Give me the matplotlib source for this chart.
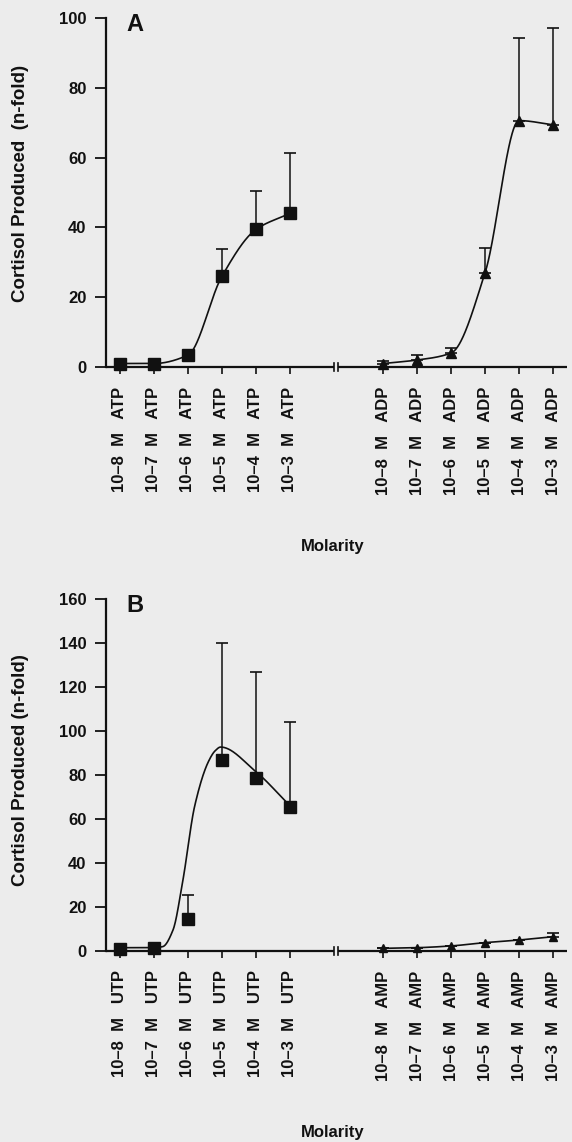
import matplotlib
matplotlib.use("Agg")
import matplotlib.pyplot as plt
import numpy as np

# ── Palette / fonts ──────────────────────────────────────────
BG = "#ececec"
INK = "#111111"
plt.rcParams["font.family"] = ["Liberation Sans", "DejaVu Sans"]
plt.rcParams["font.weight"] = "bold"

# ── Data ─────────────────────────────────────────────────────
exps = [-8, -7, -6, -5, -4, -3]
conc = ["10–8", "10–7", "10–6", "10–5", "10–4", "10–3"]

atp_mean = [1.0, 1.0, 3.4, 26.0, 39.4, 44.0]
atp_err = [0.0, 0.0, 0.0, 7.7, 10.9, 17.4]
adp_mean = [1.0, 2.0, 4.0, 27.0, 70.6, 69.4]
adp_err = [0.8, 1.5, 1.5, 7.0, 23.7, 27.6]

utp_mean = [1.0, 1.5, 14.5, 87.0, 78.5, 65.5]
utp_err = [0.0, 0.0, 11.0, 53.0, 48.5, 38.5]
amp_mean = [1.2, 1.5, 2.3, 3.8, 5.0, 6.5]
amp_err = [0.0, 0.0, 0.0, 0.0, 0.0, 1.5]

# fitted dose-response line for UTP (does not pass through the means)
utp_fit_exp = [-8, -7, -6.74, -6.44, -6.15, -5.8, -5.4, -5.2, -5.04, -4.0, -3.0]
utp_fit_val = [1.5, 1.5, 2.0, 9.5, 32.0, 66.0, 86.0, 91.0, 92.7, 81.5, 66.0]

GAP = 7.74     # offset of the second agonist group on the x axis
BREAK = 6.35   # where the axis break marks sit


def pchip(x, y, xs):
    """Monotone cubic (PCHIP) curve through the knots, evaluated at xs."""
    x = np.asarray(x, float)
    y = np.asarray(y, float)
    h = np.diff(x)
    d = np.diff(y) / h
    m = np.zeros_like(y)
    for k in range(1, len(x) - 1):
        if d[k - 1] * d[k] > 0:
            w1 = 2 * h[k] + h[k - 1]
            w2 = h[k] + 2 * h[k - 1]
            m[k] = (w1 + w2) / (w1 / d[k - 1] + w2 / d[k])
    m[0], m[-1] = d[0], d[-1]
    i = np.clip(np.searchsorted(x, xs) - 1, 0, len(h) - 1)
    t = (xs - x[i]) / h[i]
    return ((2 * t**3 - 3 * t**2 + 1) * y[i] + (t**3 - 2 * t**2 + t) * h[i] * m[i]
            + (-2 * t**3 + 3 * t**2) * y[i + 1] + (t**3 - t**2) * h[i] * m[i + 1])


def draw_series(ax, xpos, mean, err, marker, ms, fit_x=None, fit_y=None):
    if fit_x is None:
        fit_x, fit_y = xpos, mean
    xs = np.linspace(fit_x[0], fit_x[-1], 400)
    ax.plot(xs, pchip(fit_x, fit_y, xs), color=INK, lw=1.2, clip_on=False, zorder=3)
    ax.errorbar(xpos, mean, yerr=[np.zeros(len(err)), err], fmt="none",
                ecolor=INK, elinewidth=1.1, capsize=4.5, capthick=1.2,
                clip_on=False, zorder=3)
    ax.plot(xpos, mean, marker, color=INK, ms=ms, ls="none",
            clip_on=False, zorder=4)


def style_panel(ax, letter, ymax, left_name, right_name, ylabel, ylab_y):
    ax.set_facecolor(BG)
    ax.set_xlim(-0.41, 13.15)
    ax.set_ylim(0, ymax)
    for s in ("top", "right", "bottom"):
        ax.spines[s].set_visible(False)
    ax.spines["left"].set_linewidth(1.6)
    ax.spines["left"].set_color(INK)

    # broken x axis line
    kw = dict(color=INK, lw=1.6, clip_on=False, solid_capstyle="butt")
    ax.plot([-0.41, BREAK - 0.05], [0, 0], **kw)
    ax.plot([BREAK + 0.05, 13.15], [0, 0], **kw)
    for bx in (BREAK - 0.05, BREAK + 0.05):
        ax.plot([bx, bx], [-ymax * 0.012, ymax * 0.012], color=INK, lw=1.2,
                clip_on=False)

    left = np.array(exps) + 8
    right = left + GAP
    ax.set_xticks(np.concatenate([left, right]))
    ax.set_xticklabels([f"{c}  M   {left_name}" for c in conc]
                       + [f"{c}  M   {right_name}" for c in conc],
                       rotation=90, fontsize=12, fontweight="bold")
    ax.tick_params(axis="x", direction="out", length=5, width=1.2,
                   pad=9, colors=INK)
    ax.set_yticks(np.arange(0, ymax + 1, 20))
    ax.tick_params(axis="y", direction="out", length=8, width=1.3,
                   pad=6, labelsize=12, colors=INK)
    for lab in ax.get_yticklabels():
        lab.set_fontweight("bold")

    ax.set_ylabel(ylabel, fontsize=13.5, fontweight="bold", color=INK)
    ax.yaxis.set_label_coords(-0.167, ylab_y)
    ax.text(0.045, 0.982, letter, transform=ax.transAxes, fontsize=17,
            fontweight="bold", va="center", ha="left", color=INK)
    return left, right


fig = plt.figure(figsize=(5.72, 11.42), dpi=100)
fig.patch.set_facecolor(BG)

W, H = 572.0, 1142.0
ax_a = fig.add_axes([106 / W, 1 - 367 / H, 461 / W, 349 / H])
ax_b = fig.add_axes([106 / W, 1 - 951 / H, 461 / W, 352 / H])

# ── A: ATP / ADP ─────────────────────────────────────────────
left, right = style_panel(ax_a, "A", 100, "ATP", "ADP",
                          "Cortisol Produced  (n-fold)", 0.527)
draw_series(ax_a, left, atp_mean, atp_err, "s", 8.5)
draw_series(ax_a, right, adp_mean, adp_err, "^", 7)

# ── B: UTP / AMP ─────────────────────────────────────────────
left, right = style_panel(ax_b, "B", 160, "UTP", "AMP",
                          "Cortisol Produced (n-fold)", 0.514)
draw_series(ax_b, left, utp_mean, utp_err, "s", 8.5,
            fit_x=np.array(utp_fit_exp) + 8, fit_y=utp_fit_val)
draw_series(ax_b, right, amp_mean, amp_err, "^", 6)

fig.text(333 / W, 1 - 547 / H, "Molarity", ha="center", va="center",
         fontsize=12, fontweight="bold", color=INK)
fig.text(333 / W, 1 - 1132 / H, "Molarity", ha="center", va="center",
         fontsize=12, fontweight="bold", color=INK)

fig.savefig("out.png", dpi=100, facecolor=BG)
